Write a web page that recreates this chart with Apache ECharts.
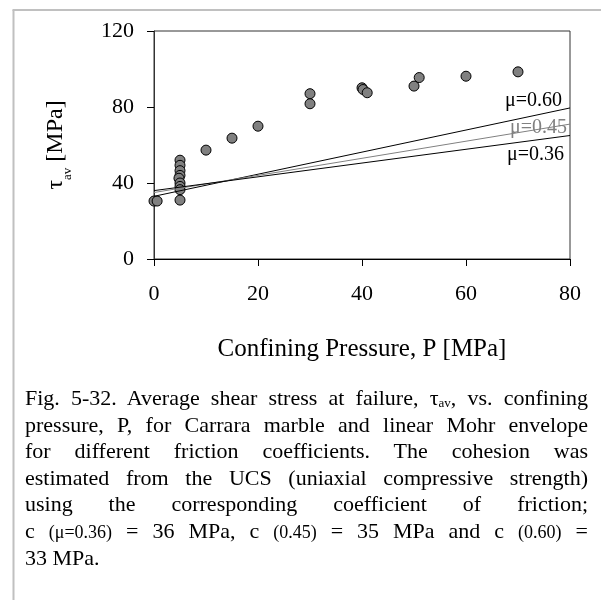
<!DOCTYPE html>
<html>
<head>
<meta charset="utf-8">
<script src="https://cdn.jsdelivr.net/npm/echarts@6/dist/echarts.min.js"></script>
<style>
  html, body { margin: 0; padding: 0; background: #fff; }
  #wrap { position: relative; width: 601px; height: 600px; overflow: hidden; }
  #chart { position: absolute; left: 0; top: 0; width: 601px; height: 600px; }
  #caption { position: absolute; left: 25px; top: 385px; width: 563px;
    font-family: "Liberation Serif", "DejaVu Serif", serif; font-size: 22px; line-height: 26.5px; color: #000; }
  #caption .ln { text-align: justify; text-align-last: justify; white-space: nowrap; }
  #caption .ln.last { text-align: left; text-align-last: left; }
  #caption sub { font-size: 13px; vertical-align: -2px; line-height: 0; }
  #caption .sm { font-size: 18px; }
</style>
</head>
<body>
<div id="wrap">
  <div id="chart"></div>
  <div id="caption">
    <div class="ln">Fig. 5-32. Average shear stress at failure, τ<sub>av</sub>, vs. confining</div>
    <div class="ln">pressure, P, for Carrara marble and linear Mohr envelope</div>
    <div class="ln">for different friction coefficients. The cohesion was</div>
    <div class="ln">estimated from the UCS (uniaxial compressive strength)</div>
    <div class="ln">using the corresponding coefficient of friction;</div>
    <div class="ln">c <span class="sm">(μ=0.36)</span> = 36 MPa, c <span class="sm">(0.45)</span> = 35 MPa and c <span class="sm">(0.60)</span> =</div>
    <div class="ln last">33 MPa.</div>
  </div>
</div>
<script>
// ---- data ----
const pressure = [0, 0.6, 5, 5, 5, 5, 4.8, 5, 5, 5, 5, 10, 15, 20, 30, 30, 40, 40.2, 41, 50, 51, 60, 70];
const shearStress = [30.5, 30.5, 52, 49.3, 46.5, 44, 42.5, 40, 38.2, 36.5, 31, 57.3, 63.6, 69.9, 87, 81.7, 90.1, 89.2, 87.5, 91, 95.5, 96.2, 98.5];
const envelopeLabels = ['μ=0.60', 'μ=0.45', 'μ=0.36'];
const envelopeP = [0, 80];
const envelope060 = [33, 79.5];
const envelope045 = [35, 71];
const envelope036 = [36, 65];
const xTicks = [0, 20, 40, 60, 80];
const yTicks = [0, 40, 80, 120];

const FONT = '"Liberation Serif", "DejaVu Serif", serif';
const chart = echarts.init(document.getElementById('chart'), null, { renderer: 'canvas' });

function envSeries(vals, label, color, offset) {
  return {
    type: 'line',
    data: [
      [envelopeP[0], vals[0]],
      { value: [envelopeP[1], vals[1]],
        label: { show: true, formatter: label, position: 'left', distance: 0, offset: offset,
                 fontFamily: FONT, fontSize: 20, color: color } }
    ],
    symbol: 'circle', symbolSize: 0, showSymbol: true,
    lineStyle: { color: color, width: 1 },
    itemStyle: { color: color },
    label: { show: false },
    emphasis: { disabled: true },
    silent: true, z: 3
  };
}

const scatterData = pressure.map((p, i) => [p, shearStress[i]]);

chart.setOption({
  animation: false,
  grid: { left: 154, top: 31, width: 416, height: 228, show: true, borderColor: '#333', borderWidth: 1, backgroundColor: 'transparent' },
  graphic: [
    { type: 'line', shape: { x1: 13.5, y1: 10, x2: 13.5, y2: 600 }, style: { stroke: '#c0c0c0', lineWidth: 2 }, silent: true },
    { type: 'line', shape: { x1: 12.5, y1: 10, x2: 601, y2: 10 }, style: { stroke: '#c0c0c0', lineWidth: 2 }, silent: true }
  ],
  xAxis: {
    type: 'value', min: xTicks[0], max: xTicks[xTicks.length - 1], interval: 20,
    name: 'Confining Pressure, P [MPa]', nameLocation: 'middle', nameGap: 78,
    nameTextStyle: { fontFamily: FONT, fontSize: 25, color: '#000' },
    axisLine: { show: true, lineStyle: { color: '#000', width: 1 } },
    axisTick: { show: true, inside: false, length: 7, lineStyle: { color: '#000' } },
    axisLabel: { margin: 24, fontFamily: FONT, fontSize: 22, color: '#000' },
    splitLine: { show: false }
  },
  yAxis: {
    type: 'value', min: yTicks[0], max: yTicks[yTicks.length - 1], interval: 40,
    name: '{t|τ}{s|av}{t| [MPa]}', nameLocation: 'middle', nameGap: 86, nameRotate: 90,
    nameTextStyle: { fontFamily: FONT, fontSize: 24, color: '#000',
      rich: {
        t: { fontFamily: FONT, fontSize: 24, color: '#000' },
        s: { fontFamily: FONT, fontSize: 13, color: '#000', verticalAlign: 'bottom', padding: [0, 0, -6, 0] }
      } },
    axisLine: { show: true, lineStyle: { color: '#333', width: 1 } },
    axisTick: { show: true, inside: false, length: 7, lineStyle: { color: '#000' } },
    axisLabel: { margin: 20, fontFamily: FONT, fontSize: 22, color: '#000' },
    splitLine: { show: false }
  },
  series: [
    {
      type: 'scatter', data: scatterData, symbol: 'circle', symbolSize: 10,
      itemStyle: { color: '#808080', borderColor: '#000', borderWidth: 1, opacity: 1 },
      emphasis: { disabled: true }, silent: true, z: 2
    },
    envSeries(envelope060, envelopeLabels[0], '#000', [-8, -7]),
    envSeries(envelope045, envelopeLabels[1], '#808080', [-3, 4]),
    envSeries(envelope036, envelopeLabels[2], '#000', [-6, 19])
  ]
});
</script>
</body>
</html>
